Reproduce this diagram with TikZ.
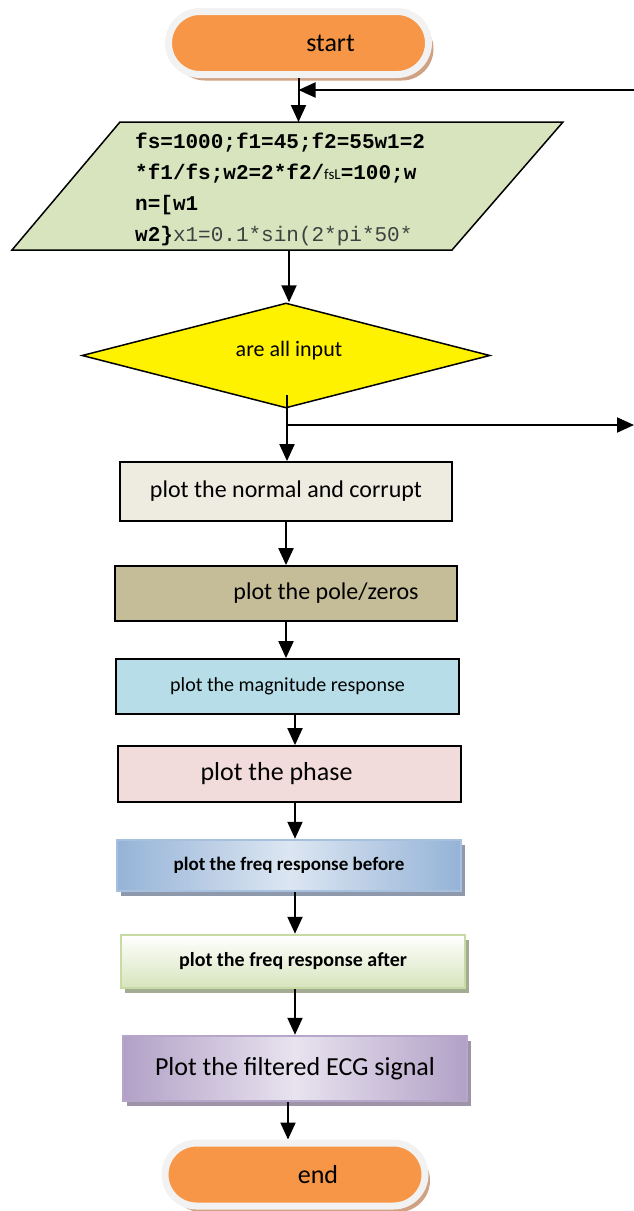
\documentclass[tikz,border=0pt]{standalone}
\usepackage{fontspec}
\setmainfont{Carlito}
\newfontfamily\codefont{Liberation Mono}
\usetikzlibrary{positioning,shapes.geometric,shadows,arrows.meta}

\definecolor{pillorange}{HTML}{F79646}
\definecolor{pillrim}{HTML}{F2F2F2}
\definecolor{pillshade}{HTML}{D0A283}
\definecolor{iogreen}{HTML}{D7E4BD}
\definecolor{cream}{HTML}{EEECE1}
\definecolor{khaki}{HTML}{C4BD97}
\definecolor{skyblue}{HTML}{B7DEE8}
\definecolor{rose}{HTML}{F2DCDB}
\definecolor{blueedge}{HTML}{95B3D7}
\definecolor{bluelight}{HTML}{DCE6F2}
\definecolor{blueline}{HTML}{A7C0DE}
\definecolor{blueshade}{HTML}{8E99AB}
\definecolor{greenline}{HTML}{C9DBA4}
\definecolor{greenshade}{HTML}{A3AB92}
\definecolor{purpleedge}{HTML}{B2A1C7}
\definecolor{purplelight}{HTML}{E8E3EF}
\definecolor{purpleline}{HTML}{B6A6CA}
\definecolor{purpleshade}{HTML}{9D95A7}

\begin{document}
\begin{tikzpicture}[
  x=1pt, y=-1pt,
  every node/.style={inner sep=0pt},
  terminal/.style={rectangle, rounded corners=31.5pt, minimum width=260pt,
    minimum height=63pt, fill=pillorange, draw=pillrim, line width=7pt,
    drop shadow={shadow xshift=5pt, shadow yshift=-6pt, fill=pillshade, opacity=1},
    font=\fontsize{26}{30}\selectfont},
  io/.style={fill=iogreen, draw, line width=1.5pt},
  decision/.style={diamond, minimum width=408pt, minimum height=105pt,
    fill=yellow, draw, line width=1.5pt},
  process/.style={rectangle, minimum width=343pt, minimum height=55pt,
    draw, line width=1.8pt},
  fancy/.style={process, line width=2.5pt,
    drop shadow={shadow xshift=4pt, shadow yshift=-5pt, fill=#1, opacity=1}},
  flow/.style={line width=2pt, -{Triangle[length=17pt,width=15pt]}},
]
\useasboundingbox (0,0) rectangle (634,1211);

% columns for the lower arrows
\coordinate (colA) at (287,0);
\coordinate (colB) at (295,0);
\coordinate (colC) at (288,0);

\node[terminal] (start) at (298.5,43) {\hspace*{64pt}start};
\coordinate (loop) at (634,90);

% input parallelogram
\coordinate (inNW) at (120,122);
\coordinate (inNE) at (563,122);
\coordinate (inSE) at (452,250);
\coordinate (inSW) at (12,250);
\draw[io] (inNW) -- (inNE) -- (inSE) -- (inSW) -- cycle;
\coordinate (inTop) at (298,122);
\coordinate (inBot) at (289,250);
\node[anchor=west, align=left, font=\codefont\fontsize{21}{31}\selectfont] (code) at (135,189)
  {{\bfseries fs=1000;f1=45;f2=55w1=2}\\
   {\bfseries *f1/fs;w2=2*f2/}{\rmfamily\fontsize{15}{18}\selectfont fsL}{\bfseries =100;w}\\
   {\bfseries n=[w1}\\
   {\bfseries w2\}}{\color{black!75}x1=0.1*sin(2*pi*50*}};

\node[decision] (check) at (286,355.5) {};
\node[font=\fontsize{22}{26}\selectfont] (ask) at (289,351) {are all input};
\coordinate (tap) at (287,395);
\coordinate (branch) at (287,425);
\coordinate (exit) at (634,425);

\node[process, fill=cream, minimum width=332pt, minimum height=59pt,
  font=\fontsize{24}{28}\selectfont] (normal) at (286,491.5) {plot the normal and corrupt};
\node[process, fill=khaki, minimum width=342pt,
  font=\fontsize{24}{28}\selectfont] (pole) at (286,593.5) {\hspace*{80pt}plot the pole/zeros};
\node[process, fill=skyblue,
  font=\fontsize{20}{24}\selectfont] (mag) at (287.5,686.5) {plot the magnitude response};
\node[process, fill=rose, minimum height=56pt,
  font=\fontsize{26}{30}\selectfont] (phase) at (289.5,774) {plot the phase\hspace*{26pt}};
\node[fancy=blueshade, draw=blueline, left color=blueedge, right color=blueedge,
  middle color=bluelight, minimum width=344pt, minimum height=51pt,
  font=\bfseries\fontsize{19}{23}\selectfont] (before) at (289,865.5) {plot the freq response before};
\node[fancy=greenshade, draw=greenline, top color=white, bottom color=iogreen,
  minimum width=344pt, minimum height=53pt,
  font=\bfseries\fontsize{20}{24}\selectfont] (after) at (293,961.5) {plot the freq response after};
\node[fancy=purpleshade, draw=purpleline, left color=purpleedge, right color=purpleedge,
  middle color=purplelight, minimum width=344pt, minimum height=65pt,
  font=\fontsize{26}{30}\selectfont] (filtered) at (295,1068.5) {Plot the filtered ECG signal};

\node[terminal] (stop) at (295,1174.5) {\hspace*{46pt}end};

\draw[flow] (start.south) -- (start.south |- inTop);
\draw[flow] (loop) -- (start.south |- loop);
\draw[flow] (inBot) -- (inBot |- check.north);
\draw[line width=2pt] (tap) -- (branch);
\draw[flow] (branch) -- (colA |- normal.north);
\draw[flow] (branch) -- (exit);
\draw[flow] (normal.south) -- (normal.south |- pole.north);
\draw[flow] (pole.south) -- (pole.south |- mag.north);
\draw[flow] (colB |- mag.south) -- (colB |- phase.north);
\draw[flow] (colB |- phase.south) -- (colB |- before.north);
\draw[flow] (colB |- before.south) -- (colB |- after.north);
\draw[flow] (colB |- after.south) -- (colB |- filtered.north);
\draw[flow] (colC |- filtered.south) -- (colC |- stop.north);

\end{tikzpicture}
\end{document}
